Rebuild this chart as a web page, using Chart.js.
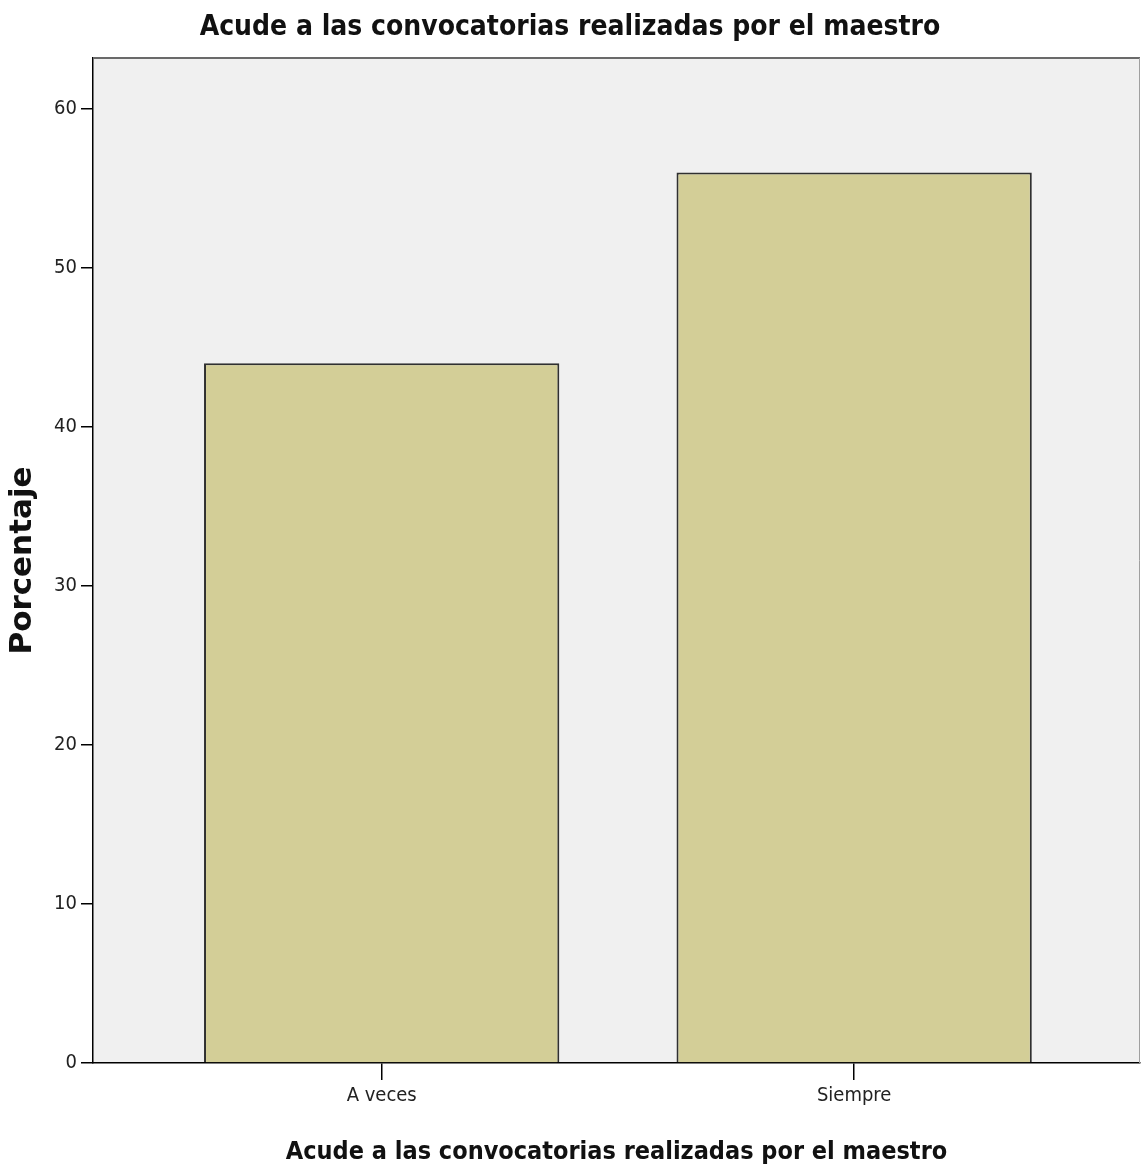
<!DOCTYPE html>
<html>
<head>
<meta charset="utf-8">
<script src="https://cdn.jsdelivr.net/npm/chart.js@4/dist/chart.umd.min.js"></script>
<style>
html,body{margin:0;padding:0;background:#fff;}
#wrap{width:1141px;height:1175px;position:relative;}
</style>
</head>
<body>
<div id="wrap"><canvas id="c" width="1141" height="1175"></canvas></div>
<script>
const chartTitle = 'Acude a las convocatorias realizadas por el maestro';
const xAxisTitle = 'Acude a las convocatorias realizadas por el maestro';
const yAxisTitle = 'Porcentaje';
const categories = ['A veces', 'Siempre'];
const percentages = [44, 56];
const yTicks = [0, 10, 20, 30, 40, 50, 60];

const NARROW = '"Liberation Sans Narrow", "Arial Narrow", "DejaVu Sans Condensed", sans-serif';

const plotFrame = {
  id: 'plotFrame',
  beforeDraw(chart) {
    const {ctx, chartArea: a} = chart;
    ctx.save();
    ctx.fillStyle = '#f0f0f0';
    ctx.fillRect(a.left, a.top, a.right - a.left, a.bottom - a.top);
    ctx.restore();
  },
  afterDraw(chart) {
    const {ctx, chartArea: a} = chart;
    ctx.save();
    ctx.strokeStyle = '#6a6a6a';
    ctx.lineWidth = 2;
    ctx.beginPath();
    ctx.moveTo(a.left, a.top);
    ctx.lineTo(a.right, a.top);
    ctx.stroke();
    ctx.strokeStyle = '#a0a0a0';
    ctx.lineWidth = 1;
    ctx.beginPath();
    ctx.moveTo(a.right - 0.5, a.top);
    ctx.lineTo(a.right - 0.5, a.bottom);
    ctx.stroke();
    ctx.restore();
  }
};

new Chart(document.getElementById('c'), {
  type: 'bar',
  data: {
    datasets: [{
      data: categories.map((c, i) => ({x: i + 1, y: percentages[i]})),
      backgroundColor: '#d3ce97',
      borderColor: '#303030',
      borderWidth: 2,
      borderSkipped: 'start',
      barPercentage: 0.752,
      categoryPercentage: 1
    }]
  },
  options: {
    responsive: false,
    animation: false,
    layout: {padding: {left: 0, right: 1, top: 0, bottom: 0}},
    plugins: {
      legend: {display: false},
      tooltip: {enabled: false},
      title: {
        display: true,
        text: chartTitle,
        color: '#111',
        font: {family: NARROW, size: 28, weight: 'bold', lineHeight: 1.2},
        padding: {top: 10.8, bottom: 13.6}
      }
    },
    scales: {
      x: {
        type: 'linear',
        offset: false,
        min: 0.389,
        max: 2.605,
        afterBuildTicks(scale) {
          scale.ticks = categories.map((c, i) => ({value: i + 1}));
        },
        afterFit(scale) { scale.height = 112; },
        ticks: {
          callback: (v) => categories[Math.round(v) - 1] ?? '',
          color: '#222',
          font: {family: NARROW, size: 20},
          padding: 4,
          maxRotation: 0
        },
        grid: {display: true, offset: false, drawOnChartArea: false, drawTicks: true, tickLength: 17, color: '#000', lineWidth: 1.5},
        border: {display: true, color: '#000', width: 1.5},
        title: {
          display: true,
          text: xAxisTitle,
          color: '#111',
          font: {family: NARROW, size: 25, weight: 'bold', lineHeight: 1.2},
          padding: {top: 0, bottom: 8}
        }
      },
      y: {
        min: 0,
        max: 63.2,
        afterBuildTicks(scale) {
          scale.ticks = yTicks.map(v => ({value: v}));
        },
        afterFit(scale) { scale.width = 93; },
        ticks: {
          color: '#222',
          font: {family: NARROW, size: 20},
          padding: 4
        },
        grid: {display: true, drawOnChartArea: false, drawTicks: true, tickLength: 12, color: '#000', lineWidth: 1.5},
        border: {display: true, color: '#000', width: 1.5},
        title: {
          display: true,
          text: yAxisTitle,
          color: '#111',
          font: {family: '"DejaVu Sans", sans-serif', size: 31, weight: 'bold', lineHeight: 1.2},
          padding: {top: 4, bottom: 0}
        }
      }
    }
  },
  plugins: [plotFrame]
});
</script>
</body>
</html>
